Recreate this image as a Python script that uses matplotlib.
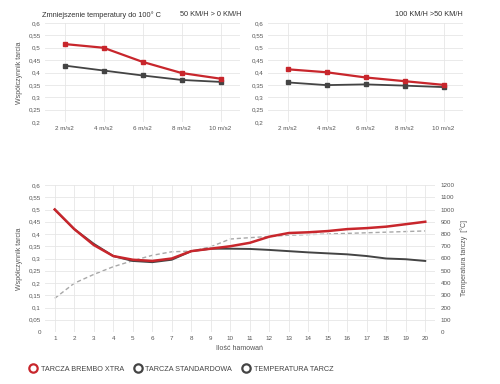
import matplotlib.pyplot as plt
from matplotlib.lines import Line2D
from matplotlib.ticker import FuncFormatter

plt.rcParams["font.family"] = ["Liberation Sans", "DejaVu Sans"]

RED = "#c8262c"
DARK = "#444444"
TEMP = "#a8a8a8"
GRID = "#e6e6e6"
TICK = "#555555"

# dane - wykresy górne
decel = ["2 m/s2", "4 m/s2", "6 m/s2", "8 m/s2", "10 m/s2"]
red_50_0 = [0.515, 0.500, 0.443, 0.398, 0.375]
std_50_0 = [0.428, 0.408, 0.388, 0.370, 0.362]
red_100_50 = [0.413, 0.401, 0.380, 0.365, 0.350]
std_100_50 = [0.360, 0.349, 0.352, 0.347, 0.341]

# dane - wykres dolny
brakes = list(range(1, 21))
red_mu = [0.500, 0.420, 0.355, 0.310, 0.295, 0.290, 0.300, 0.330, 0.340, 0.350,
          0.364, 0.389, 0.404, 0.407, 0.412, 0.420, 0.424, 0.430, 0.440, 0.450]
std_mu = [0.500, 0.420, 0.360, 0.310, 0.290, 0.285, 0.295, 0.330, 0.340, 0.340,
          0.339, 0.335, 0.330, 0.325, 0.321, 0.317, 0.310, 0.300, 0.297, 0.290]
temp = [275, 398, 470, 533, 582, 626, 655, 660, 696, 759,
        770, 780, 790, 795, 800, 805, 810, 815, 820, 825]


def comma(v, pos):
    s = f"{v:.2f}".rstrip("0").rstrip(".")
    return s.replace(".", ",")


def style(ax):
    for s in ax.spines.values():
        s.set_visible(False)
    ax.grid(True, color=GRID, lw=0.6)
    ax.set_axisbelow(True)
    ax.tick_params(length=0, labelsize=4.5, colors=TICK, pad=3)


fig = plt.figure(figsize=(5, 3.84), dpi=100)
W, H = 500, 384


def box(l, t, r, b):
    return [l / W, 1 - b / H, (r - l) / W, (b - t) / H]


# górne wykresy
ax1 = fig.add_axes(box(45, 23, 240, 122))
ax2 = fig.add_axes(box(268, 23, 463, 122))
for ax, r, s in [(ax1, red_50_0, std_50_0), (ax2, red_100_50, std_100_50)]:
    style(ax)
    x = range(len(decel))
    ax.plot(x, s, color=DARK, lw=1.3, marker="s", ms=2.5)
    ax.plot(x, r, color=RED, lw=1.6, marker="s", ms=2.5)
    ax.set_xticks(list(x))
    ax.set_xticklabels(decel)
    ax.set_xlim(-0.5, 4.5)
    ax.set_ylim(0.2, 0.6)
    ax.set_yticks([0.2, 0.25, 0.3, 0.35, 0.4, 0.45, 0.5, 0.55, 0.6])
    ax.yaxis.set_major_formatter(FuncFormatter(comma))
ax1.set_ylabel("Współczynnik tarcia", fontsize=5, color=TICK, labelpad=4)

fig.text(42 / W, 1 - 15 / H, "Zmniejszenie temperatury do 100° C", fontsize=5.3,
         color="#333333", va="center")
fig.text(241 / W, 1 - 15 / H, "50 KM/H > 0 KM/H", fontsize=5.3,
         color="#333333", va="center", ha="right")
fig.text(463 / W, 1 - 15 / H, "100 KM/H >50 KM/H", fontsize=5.3,
         color="#333333", va="center", ha="right")

# dolny wykres
ax3 = fig.add_axes(box(45, 185, 435, 332))
style(ax3)
ax3.set_xlim(0.5, 20.5)
ax3.set_ylim(0, 0.6)
ax3.set_xticks(brakes)
ax3.set_yticks([i * 0.05 for i in range(13)])
ax3.yaxis.set_major_formatter(FuncFormatter(comma))
ax3.set_xlabel("Ilość hamowań", fontsize=5, color=TICK, labelpad=3)
ax3.set_ylabel("Współczynnik tarcia", fontsize=5, color=TICK, labelpad=4)

ax4 = ax3.twinx()
for s in ax4.spines.values():
    s.set_visible(False)
ax4.set_ylim(0, 1200)
ax4.set_yticks(range(0, 1201, 100))
ax4.tick_params(length=0, labelsize=4.5, colors=TICK, pad=4)
ax4.set_ylabel("Temperatura tarczy  [°C]", fontsize=5, color=TICK, labelpad=4)

ax4.plot(brakes, temp, color=TEMP, lw=1.0, ls=(0, (3, 2)))
ax3.plot(brakes, std_mu, color=DARK, lw=1.4)
ax3.plot(brakes, red_mu, color=RED, lw=1.8)
ax3.set_zorder(ax4.get_zorder() + 1)
ax3.patch.set_visible(False)

handles = [
    Line2D([], [], ls="none", marker="o", ms=6, mfc="white", mec=RED, mew=1.6),
    Line2D([], [], ls="none", marker="o", ms=6, mfc="white", mec=DARK, mew=1.6),
    Line2D([], [], ls="none", marker="o", ms=6, mfc="white", mec=DARK, mew=1.6),
]
labels = ["TARCZA BREMBO XTRA", "TARCZA STANDARDOWA", "TEMPERATURA TARCZ"]
fig.legend(handles, labels, loc="center left", bbox_to_anchor=(0.045, 1 - 369 / H),
           ncol=3, frameon=False, fontsize=5.2, handletextpad=0.6, columnspacing=1.4,
           handlelength=1.0, labelcolor="#444444")

fig.savefig("out.png", dpi=100, facecolor="white")
